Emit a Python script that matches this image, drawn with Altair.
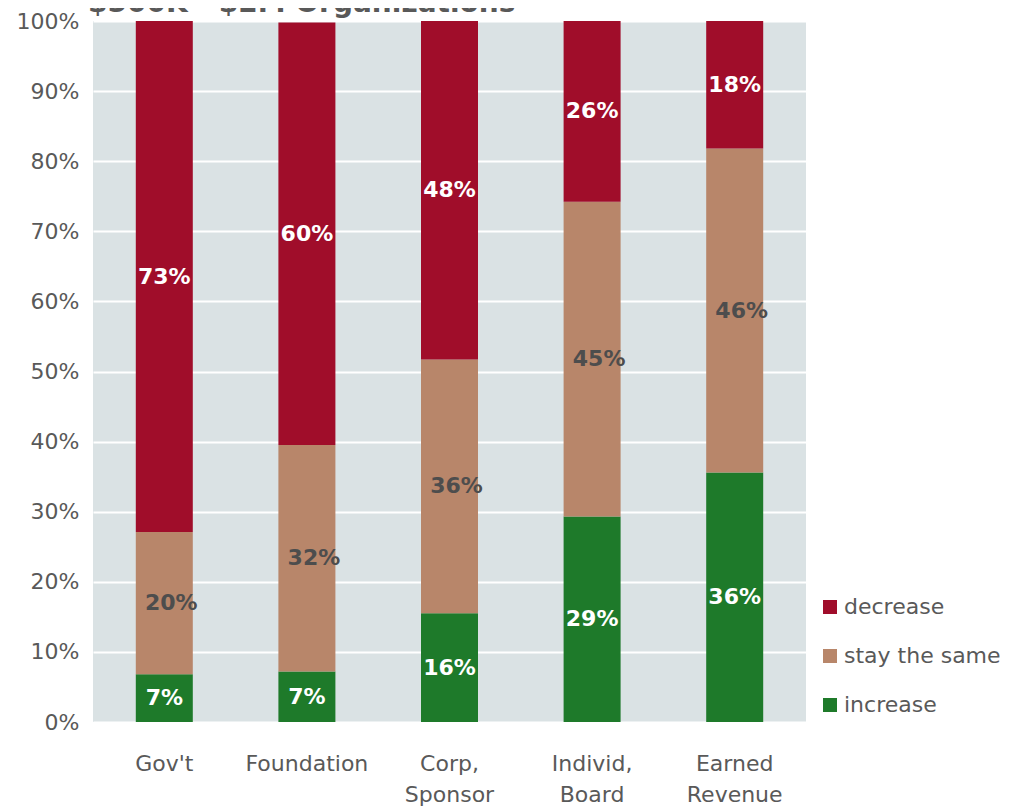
import altair as alt
import pandas as pd

categories = ["Gov't", "Foundation", "Corp,\nSponsor", "Individ,\nBoard", "Earned\nRevenue"]
increase = [0.068, 0.072, 0.155, 0.293, 0.356]
stay_same = [0.203, 0.323, 0.362, 0.449, 0.462]
decrease = [0.729, 0.603, 0.483, 0.258, 0.182]
series = ["decrease", "stay the same", "increase"]
colors = ["#a00d2a", "#b8866a", "#1e7a2a"]
title_text = "$500K - $2M Organizations"

rows = []
for i, c in enumerate(categories):
    for s, vals, o in [("increase", increase, 0), ("stay the same", stay_same, 1), ("decrease", decrease, 2)]:
        rows.append({"cat": c, "series": s, "value": vals[i], "ord": o})
df = pd.DataFrame(rows)

FONT = "DejaVu Sans"
GRAY = "#595959"

base = alt.Chart(df).transform_stack(
    stack="value", groupby=["cat"], as_=["y0", "y1"], sort=[alt.SortField("ord", order="ascending")]
).transform_calculate(mid="(datum.y0 + datum.y1) / 2")

x_enc = alt.X("cat:N", sort=categories, title=None,
              axis=alt.Axis(labelAngle=0, labelFontSize=22, labelColor=GRAY, labelFont=FONT,
                            ticks=False, domain=False, labelPadding=48, labelExpr="split(datum.value, '\\n')",
                            labelLineHeight=31, labelBaseline="alphabetic"),
              scale=alt.Scale(paddingInner=0.6, paddingOuter=0.3))

bars = base.mark_bar(size=57).encode(
    x=x_enc,
    y=alt.Y("y0:Q", title=None, scale=alt.Scale(domain=[0, 1], nice=False),
            axis=alt.Axis(format=".0%", values=[i / 10 for i in range(11)], labelFontSize=22,
                          labelColor=GRAY, labelFont=FONT, ticks=False, domain=False,
                          labelPadding=14, gridColor="white", gridWidth=2)),
    y2="y1:Q",
    color=alt.Color("series:N", scale=alt.Scale(domain=series, range=colors),
                    legend=alt.Legend(title=None, orient="none", legendX=726, legendY=575,
                                      symbolType="square", symbolSize=196, symbolStrokeWidth=0,
                                      labelFontSize=22, labelColor=GRAY, labelFont=FONT,
                                      rowPadding=27, labelOffset=3)),
)

white_labels = base.transform_filter("datum.series != 'stay the same'").mark_text(
    font=FONT, fontSize=22, fontWeight="bold", color="white", baseline="middle"
).encode(
    x=alt.X("cat:N", sort=categories),
    y=alt.Y("mid:Q"),
    text=alt.Text("value:Q", format=".0%"),
)

gray_labels = base.transform_filter("datum.series == 'stay the same'").mark_text(
    font=FONT, fontSize=22, fontWeight="bold", color="#4d4d4d", baseline="middle", dx=7
).encode(
    x=alt.X("cat:N", sort=categories),
    y=alt.Y("mid:Q"),
    text=alt.Text("value:Q", format=".0%"),
)

title_df = pd.DataFrame({"t": [title_text]})
title = alt.Chart(title_df).mark_text(
    font=FONT, fontSize=28, fontWeight="bold", color=GRAY, align="left", baseline="alphabetic"
).encode(x=alt.value(-5), y=alt.value(-9), text="t:N")

chart = alt.layer(bars, white_labels, gray_labels, title).properties(
    width=713, height=701,
    autosize=alt.AutoSizeParams(type="none"),
    padding={"left": 85, "top": 13, "right": 212, "bottom": 87},
).configure_view(fill="#dae2e4", stroke=None).configure_axis(grid=True)
chart = chart.configure_axisX(grid=False)

chart.save("out.html", embed_options={"renderer": "svg", "actions": False})
